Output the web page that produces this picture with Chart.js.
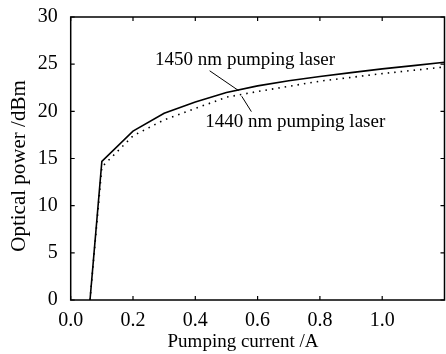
<!DOCTYPE html>
<html>
<head>
<meta charset="utf-8">
<script src="https://cdn.jsdelivr.net/npm/chart.js@4"></script>
<style>
  html, body { margin: 0; padding: 0; background: #fff; }
  #wrap { width: 446px; height: 354px; }
</style>
</head>
<body>
<div id="wrap"><canvas id="powerChart" width="446" height="354"></canvas></div>
<script>
const current = [0.062, 0.1, 0.2, 0.3, 0.4, 0.5, 0.6, 0.7, 0.8, 0.9, 1.0, 1.1, 1.2];
const power1450 = [0, 14.7, 17.9, 19.8, 21.0, 22.0, 22.7, 23.25, 23.7, 24.1, 24.5, 24.85, 25.2];
const power1440 = [0, 14.1, 17.4, 19.1, 20.3, 21.5, 22.1, 22.65, 23.2, 23.6, 24.0, 24.35, 24.7];
const xTicks = [0.0, 0.2, 0.4, 0.6, 0.8, 1.0];
const yTicks = [0, 5, 10, 15, 20, 25, 30];

const serif = "'Liberation Serif', 'Times New Roman', serif";

// curve labels with their leader lines, in data units
const notes = [
  { text: "1450 nm pumping laser", x: 0.271, y: 24.9, from: [0.446, 24.3], to: [0.539, 22.2] },
  { text: "1440 nm pumping laser", x: 0.432, y: 18.3, from: [0.549, 21.6], to: [0.58, 19.97] }
];

const toPoints = (xs, ys) => xs.map((x, i) => ({ x: x, y: ys[i] }));

// frame, inward ticks on all four sides, axis titles and curve labels
const framePlugin = {
  id: "frame",
  afterDraw(chart) {
    const { ctx, chartArea: a, scales } = chart;
    const xs = scales.x, ys = scales.y;
    ctx.save();
    ctx.strokeStyle = "#000";
    ctx.lineWidth = 1.5;
    ctx.strokeRect(a.left, a.top, a.right - a.left, a.bottom - a.top);

    ctx.lineWidth = 1.2;
    ctx.beginPath();
    xTicks.forEach(v => {
      const px = xs.getPixelForValue(v);
      ctx.moveTo(px, a.bottom); ctx.lineTo(px, a.bottom - 4);
      ctx.moveTo(px, a.top); ctx.lineTo(px, a.top + 4);
    });
    yTicks.forEach(v => {
      const py = ys.getPixelForValue(v);
      ctx.moveTo(a.left, py); ctx.lineTo(a.left + 4, py);
      ctx.moveTo(a.right, py); ctx.lineTo(a.right - 4, py);
    });
    ctx.stroke();

    ctx.fillStyle = "#000";
    ctx.textAlign = "center";
    ctx.textBaseline = "middle";
    ctx.font = "19px " + serif;
    ctx.fillText("Pumping current /A", 243, 342);
    ctx.save();
    ctx.translate(19, 166);
    ctx.rotate(-Math.PI / 2);
    ctx.font = "21px " + serif;
    ctx.fillText("Optical power /dBm", 0, 0);
    ctx.restore();

    ctx.font = "19px " + serif;
    ctx.textAlign = "left";
    ctx.textBaseline = "alphabetic";
    ctx.lineWidth = 1;
    notes.forEach(n => {
      ctx.fillText(n.text, xs.getPixelForValue(n.x), ys.getPixelForValue(n.y));
      ctx.beginPath();
      ctx.moveTo(xs.getPixelForValue(n.from[0]), ys.getPixelForValue(n.from[1]));
      ctx.lineTo(xs.getPixelForValue(n.to[0]), ys.getPixelForValue(n.to[1]));
      ctx.stroke();
    });
    ctx.restore();
  }
};

const ctx = document.getElementById("powerChart").getContext("2d");
new Chart(ctx, {
  type: "line",
  data: {
    datasets: [
      {
        label: "1450 nm",
        data: toPoints(current, power1450),
        borderColor: "#000",
        borderWidth: 1.6,
        pointRadius: 0,
        tension: 0
      },
      {
        label: "1440 nm",
        data: toPoints(current, power1440),
        borderColor: "#000",
        borderWidth: 1.6,
        borderDash: [1.5, 5],
        pointRadius: 0,
        tension: 0
      }
    ]
  },
  options: {
    responsive: false,
    animation: false,
    layout: { padding: { top: 17, right: 1.5, left: 0, bottom: 0 } },
    plugins: {
      legend: { display: false },
      tooltip: { enabled: false }
    },
    scales: {
      x: {
        type: "linear",
        min: 0,
        max: 1.2,
        afterFit: s => { s.height = 54; },
        grid: { display: false },
        border: { display: false },
        ticks: {
          stepSize: 0.2,
          color: "#000",
          padding: 1,
          maxRotation: 0,
          font: { family: serif, size: 20 },
          callback: v => (v > 1.1 ? "" : v.toFixed(1))
        }
      },
      y: {
        min: 0,
        max: 30,
        afterFit: s => { s.width = 70.7; },
        grid: { display: false },
        border: { display: false },
        ticks: {
          stepSize: 5,
          color: "#000",
          padding: 5,
          font: { family: serif, size: 20 }
        }
      }
    }
  },
  plugins: [framePlugin]
});
</script>
</body>
</html>
